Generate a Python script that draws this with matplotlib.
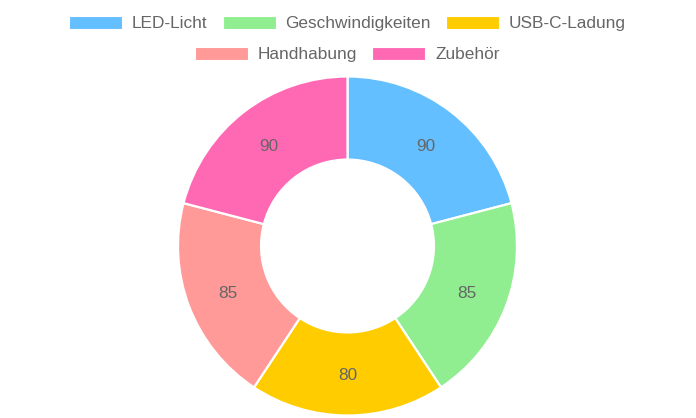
import matplotlib
matplotlib.use("Agg")
import matplotlib.pyplot as plt
from matplotlib.patches import Rectangle
import numpy as np

labels = ["LED-Licht", "Geschwindigkeiten", "USB-C-Ladung", "Handhabung", "Zubehör"]
values = [90, 85, 80, 85, 90]
colors = ["#63bfff", "#90ee90", "#ffcc00", "#ff9a98", "#ff69b4"]

plt.rcParams['font.family'] = ['Liberation Sans', 'DejaVu Sans']

W, H = 696, 418
fig = plt.figure(figsize=(W / 100, H / 100), dpi=100)
fs = 12.4

# donut axes (pixel geometry from the reference)
cx, cy, r = 347.5, 246, 169.5
ax = fig.add_axes([(cx - r) / W, (H - cy - r) / H, 2 * r / W, 2 * r / H])
wedges, _ = ax.pie(values, colors=colors, startangle=90, counterclock=False,
                   radius=1, wedgeprops=dict(width=0.49, edgecolor="white", linewidth=1.6))
ax.set_xlim(-1, 1)
ax.set_ylim(-1, 1)
ax.set_aspect("equal")
ax.axis("off")

# value labels in the middle of the ring
total = sum(values)
start = 90
for v in values:
    mid = np.deg2rad(start - v / total * 360 / 2)
    ax.text(0.755 * np.cos(mid), 0.755 * np.sin(mid), str(v), ha="center",
            va="center_baseline", fontsize=fs, color="#666666")
    start -= v / total * 360

# legend drawn by hand, two centred rows like the reference
rows = [[0, 1, 2], [3, 4]]
row_y = [22, 53]
box_w, box_h, gap, spacing = 53, 13, 10, 15
renderer = fig.canvas.get_renderer()
for row, yy in zip(rows, row_y):
    widths = []
    for i in row:
        t = fig.text(0, 0, labels[i], fontsize=fs)
        widths.append(t.get_window_extent(renderer).width)
        t.remove()
    total_w = sum(box_w + gap + w for w in widths) + spacing * (len(row) - 1)
    x = cx - total_w / 2
    for i, w in zip(row, widths):
        fig.patches.append(Rectangle((x / W, (H - yy - box_h / 2) / H), box_w / W, box_h / H,
                                     transform=fig.transFigure, facecolor=colors[i],
                                     edgecolor="white", linewidth=0.8))
        fig.text((x + box_w + gap) / W, (H - yy) / H, labels[i], fontsize=fs,
                 color="#666666", va="center_baseline")
        x += box_w + gap + w + spacing

fig.savefig("out.png", dpi=100)
